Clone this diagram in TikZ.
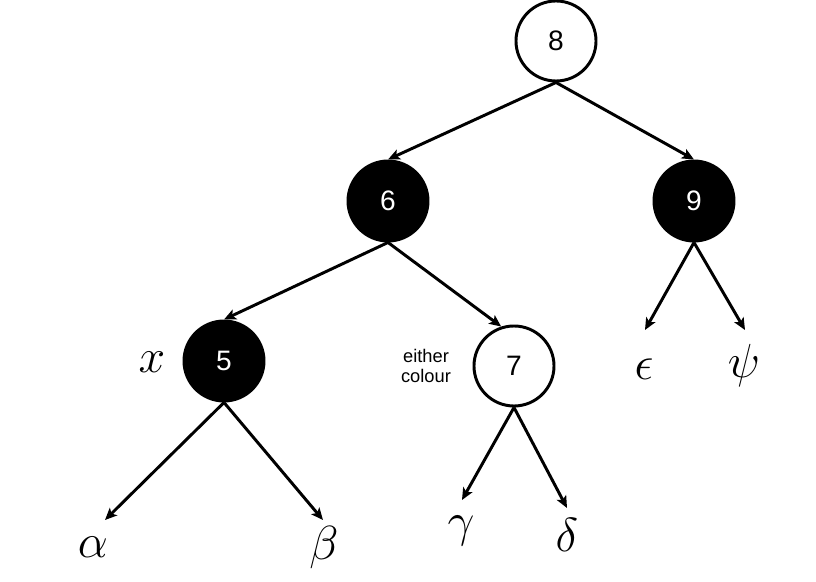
\RequirePackage{fix-cm}
\documentclass[tikz,border=0pt]{standalone}
\usepackage{fontspec}
\newfontfamily\labelfont{Liberation Sans}
\usetikzlibrary{arrows.meta}

\begin{document}
\begin{tikzpicture}[%
        x = 0.025cm, y = -0.025cm,
        > = {Stealth[length = 8.5pt, width = 7.5pt, inset = 2pt]},
        key/.style = {
            circle, draw, line width = 2.1pt, minimum size = 2cm, inner sep = 0pt,
            font = \labelfont\fontsize{20}{24}\selectfont
        },
        red_key/.style = {key, fill = black, text = white},
        black_key/.style = {key, fill = white},
        greek/.style = {anchor = base, inner sep = 0pt, font = \fontsize{34}{40}\selectfont},
        line width = 2.1pt
    ]
        \useasboundingbox (0, 0) rectangle (816, 582);

        % The keys of the tree.
        \node[black_key] (n8) at (556, 41) {8};
        \node[red_key] (n6) at (388, 201) {6};
        \node[red_key] (n9) at (694, 201) {9};
        \node[red_key] (n5) at (224, 361) {5};
        \node[black_key] (n7) at (514, 366) {7};

        \node[greek] (x) at (152, 373) {$x$};
        \node[align = center, font = \labelfont\fontsize{13}{14.5}\selectfont] (either)
            at (426, 366) {either\\colour};

        % Subtrees hanging below.
        \node[greek] (alpha) at (93, 558) {$\alpha$};
        \node[greek] (beta) at (324, 560) {$\beta$};
        \node[greek] (gamma) at (461, 537) {$\gamma$};
        \node[greek] (delta) at (567, 552) {$\delta$};
        \node[greek] (epsilon) at (644, 380) {$\epsilon$};
        \node[greek] (psi) at (744, 378) {$\psi$};

        \coordinate (t_alpha) at (105, 520);
        \coordinate (t_beta) at (323, 520);
        \coordinate (t_gamma) at (462, 500);
        \coordinate (t_delta) at (567, 508);
        \coordinate (t_epsilon) at (645, 330);
        \coordinate (t_psi) at (745, 330);

        \begin{scope}[->]
            \draw (n8.south) to (n6.north);
            \draw (n8.south) to (n9.north);
            \draw (n6.south) to (n5.north);
            \draw (n6.south) to (n7.108);
            \draw (n5.south) to (t_alpha);
            \draw (n5.south) to (t_beta);
            \draw (n7.south) to (t_gamma);
            \draw (n7.south) to (t_delta);
            \draw (n9.south) to (t_epsilon);
            \draw (n9.south) to (t_psi);
        \end{scope}
    \end{tikzpicture}
\end{document}
